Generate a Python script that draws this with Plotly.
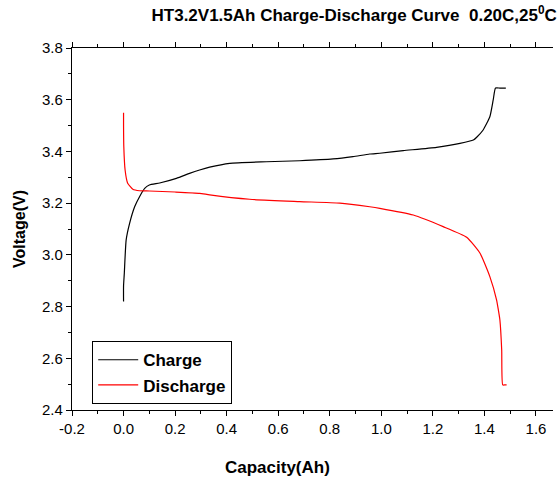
import plotly.graph_objects as go

charge_cap = [0.0, 0.0, 0.003, 0.01, 0.023, 0.043, 0.062, 0.082, 0.10, 0.14, 0.205, 0.256, 0.295, 0.334,
              0.412, 0.554, 0.683, 0.813, 0.89, 0.955, 0.994, 1.085, 1.214, 1.305, 1.357, 1.37,
              1.395, 1.421, 1.434, 1.443, 1.46, 1.483]
charge_v = [2.82, 2.88, 2.93, 3.057, 3.12, 3.186, 3.225, 3.257, 3.27, 3.278, 3.296, 3.315, 3.328, 3.339,
            3.354, 3.36, 3.364, 3.371, 3.38, 3.39, 3.393, 3.403, 3.416, 3.431, 3.444, 3.455,
            3.483, 3.534, 3.599, 3.645, 3.645, 3.645]

dis_cap = [0.0, 0.0, 0.001, 0.006, 0.016, 0.036, 0.062, 0.1, 0.2, 0.295, 0.334, 0.489, 0.683, 0.839,
           0.955, 0.994, 1.124, 1.24, 1.331, 1.383, 1.421, 1.447, 1.454, 1.46, 1.467, 1.471, 1.48, 1.486]
dis_v = [3.55, 3.50, 3.418, 3.328, 3.277, 3.254, 3.248, 3.247, 3.243, 3.238, 3.232, 3.215, 3.206, 3.2,
         3.186, 3.18, 3.154, 3.109, 3.068, 3.006, 2.916, 2.826, 2.787, 2.748, 2.632, 2.497, 2.497, 2.497]

x_ticks = [-0.2, 0.0, 0.2, 0.4, 0.6, 0.8, 1.0, 1.2, 1.4, 1.6]
y_ticks = [2.4, 2.6, 2.8, 3.0, 3.2, 3.4, 3.6, 3.8]

fig = go.Figure()
fig.add_trace(go.Scatter(x=charge_cap, y=charge_v, mode="lines", name="<b>Charge</b>",
                         line=dict(color="black", width=1.2, shape="spline", smoothing=0.5)))
fig.add_trace(go.Scatter(x=dis_cap, y=dis_v, mode="lines", name="<b>Discharge</b>",
                         line=dict(color="red", width=1.2, shape="spline", smoothing=0.5)))

font = "Arial, 'Liberation Sans', sans-serif"
fig.update_layout(
    width=558, height=483,
    margin=dict(l=72, r=5, t=48, b=73),
    paper_bgcolor="white", plot_bgcolor="white",
    font=dict(family=font, size=15, color="black"),
    title=dict(text="<b>HT3.2V1.5Ah Charge-Discharge Curve  0.20C,25<sup>0</sup>C</b>",
               xref="container", x=0.998, xanchor="right", y=0.968, yanchor="middle",
               font=dict(size=17, family=font, color="black")),
    showlegend=True,
    legend=dict(x=0.042, y=0.19, xanchor="left", yanchor="top",
                bordercolor="black", borderwidth=1, bgcolor="white",
                font=dict(size=17, family=font, color="black"),
                tracegroupgap=0, itemwidth=40),
    xaxis=dict(range=[-0.2, 1.666], tickvals=x_ticks, ticktext=[f"{v:.1f}" for v in x_ticks],
               showgrid=False, zeroline=False, showline=True, linecolor="black", linewidth=1.2,
               mirror="ticks", ticks="outside", ticklen=5, tickwidth=1, tickcolor="black",
               minor=dict(dtick=0.1, tick0=-0.2, ticks="outside", ticklen=3, tickcolor="black", showgrid=False),
               tickfont=dict(size=15)),
    yaxis=dict(range=[2.4, 3.8], tickvals=y_ticks, ticktext=[f"{v:.1f}" for v in y_ticks],
               showgrid=False, zeroline=False, showline=True, linecolor="black", linewidth=1.2,
               ticks="outside", ticklen=5, tickwidth=1, tickcolor="black",
               minor=dict(dtick=0.1, tick0=2.4, ticks="outside", ticklen=3, tickcolor="black", showgrid=False),
               title=dict(text="<b>Voltage(V)</b>", font=dict(size=16), standoff=12),
               tickfont=dict(size=15)),
    annotations=[dict(text="<b>Capacity(Ah)</b>", xref="paper", yref="paper",
                      x=0.428, y=-0.160, xanchor="center", yanchor="middle",
                      showarrow=False, font=dict(size=17, family=font, color="black"))],
)

fig.write_html("out.html", config={"displayModeBar": False},
               post_script="document.body.style.margin='0';document.body.style.overflow='hidden';")
